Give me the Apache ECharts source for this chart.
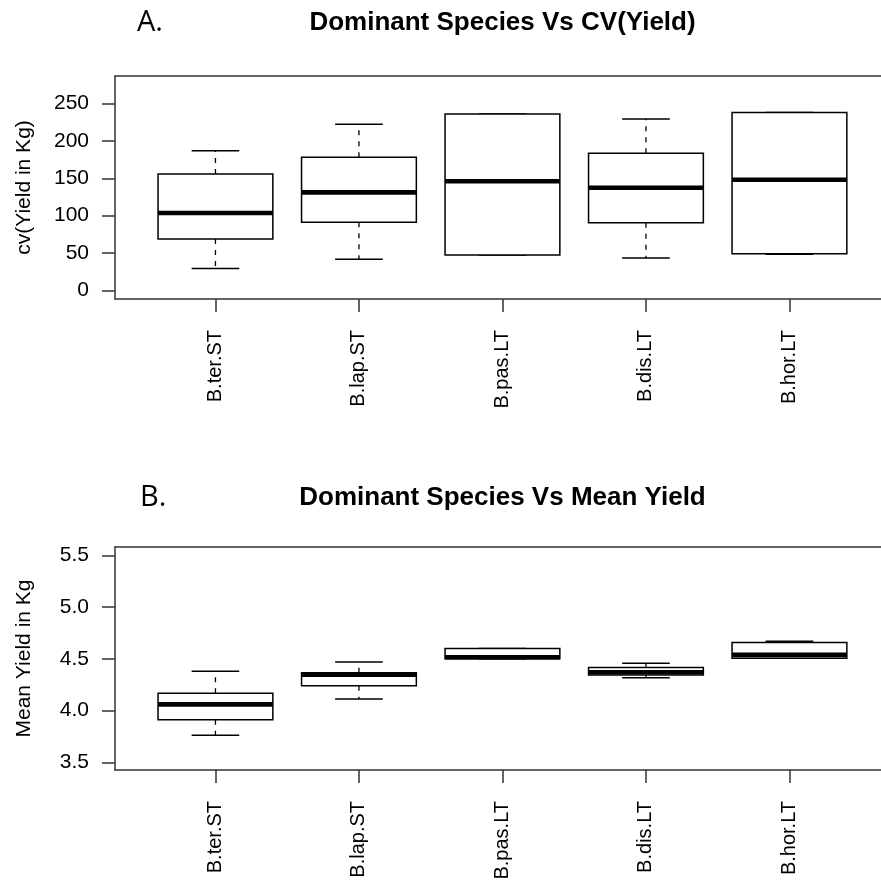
<!DOCTYPE html>
<html><head><meta charset="utf-8">
<script src="https://cdn.jsdelivr.net/npm/echarts@6/dist/echarts.min.js"></script>
<style>html,body{margin:0;padding:0;background:#fff}#c{width:881px;height:884px}</style>
</head><body><div id="c"></div>
<script>
const categories = ['B.ter.ST', 'B.lap.ST', 'B.pas.LT', 'B.dis.LT', 'B.hor.LT'];
// each: [lower whisker, Q1, median, Q3, upper whisker]
const cvYield = [
  [29.3, 69.0, 103.5, 155.7, 186.8],
  [41.9, 91.2, 131.2, 178.0, 222.0],
  [47.6, 47.6, 145.9, 235.7, 235.7],
  [43.6, 90.7, 137.4, 183.3, 229.0],
  [48.5, 49.0, 148.1, 238.0, 238.0]
];
const meanYield = [
  [3.761, 3.911, 4.060, 4.168, 4.381],
  [4.111, 4.239, 4.347, 4.366, 4.468],
  [4.500, 4.500, 4.515, 4.600, 4.600],
  [4.316, 4.343, 4.370, 4.417, 4.458],
  [4.506, 4.506, 4.538, 4.658, 4.670]
];
const cvTicks = [0, 50, 100, 150, 200, 250];
const meanTicks = [3.5, 4.0, 4.5, 5.0, 5.5];
const catPositions = [1, 2, 3, 4, 5];

const FONT = 'Liberation Sans, Arial, Helvetica, sans-serif';
const FRAME = '#333';
const X_MIN = 0.3, X_MAX = 5.638;

function renderBox(params, api) {
  const x = api.value(0);
  const lo = api.value(1), q1 = api.value(2), med = api.value(3), q3 = api.value(4), hi = api.value(5);
  const cx = api.coord([x, med])[0];
  const halfBox = api.size([0.4, 0])[0];
  const capHalf = api.size([0.166, 0])[0];
  const yLo = api.coord([x, lo])[1], yQ1 = api.coord([x, q1])[1], yMed = api.coord([x, med])[1];
  const yQ3 = api.coord([x, q3])[1], yHi = api.coord([x, hi])[1];
  const dash = {stroke: '#000', lineWidth: 1.3, lineDash: [5, 6], fill: null};
  const solid = {stroke: '#000', lineWidth: 1.5, fill: null};
  const children = [];
  if (Math.abs(yHi - yQ3) > 0.5) {
    children.push({type: 'line', shape: {x1: cx, y1: yQ3, x2: cx, y2: yHi}, style: dash});
  }
  if (Math.abs(yLo - yQ1) > 0.5) {
    children.push({type: 'line', shape: {x1: cx, y1: yQ1, x2: cx, y2: yLo}, style: dash});
  }
  children.push({type: 'line', shape: {x1: cx - capHalf, y1: yHi, x2: cx + capHalf, y2: yHi}, style: solid});
  children.push({type: 'line', shape: {x1: cx - capHalf, y1: yLo, x2: cx + capHalf, y2: yLo}, style: solid});
  children.push({type: 'rect', shape: {x: cx - halfBox, y: yQ3, width: 2 * halfBox, height: yQ1 - yQ3},
    style: {fill: '#fff', stroke: '#000', lineWidth: 1.5}});
  children.push({type: 'line', shape: {x1: cx - halfBox, y1: yMed, x2: cx + halfBox, y2: yMed},
    style: {stroke: '#000', lineWidth: 4.6}});
  return {type: 'group', children: children};
}

function xAxisCfg(gi) {
  return {
    type: 'value', gridIndex: gi, min: X_MIN, max: X_MAX, position: 'bottom',
    axisLine: {show: true, onZero: false, lineStyle: {color: FRAME, width: 1.5}},
    splitLine: {show: false},
    axisTick: {show: true, customValues: catPositions, length: 13, lineStyle: {color: FRAME, width: 1.5}},
    axisLabel: {
      customValues: catPositions, rotate: 90, margin: 31, fontSize: 20, color: '#000', fontFamily: FONT,
      formatter: v => categories[Math.round(v) - 1]
    }
  };
}
function xTopCfg(gi) {
  return {
    type: 'value', gridIndex: gi, min: X_MIN, max: X_MAX, position: 'top',
    axisLine: {show: true, onZero: false, lineStyle: {color: FRAME, width: 1.5}},
    splitLine: {show: false}, axisTick: {show: false}, axisLabel: {show: false}
  };
}
function yAxisCfg(gi, min, max, ticks, name, fmt) {
  return {
    type: 'value', gridIndex: gi, min: min, max: max, position: 'left',
    axisLine: {show: true, onZero: false, lineStyle: {color: FRAME, width: 1.5}},
    splitLine: {show: false},
    axisTick: {show: true, customValues: ticks, length: 13, lineStyle: {color: FRAME, width: 1.5}},
    axisLabel: {customValues: ticks, margin: 26, fontSize: 21, color: '#000', fontFamily: FONT, formatter: fmt},
    name: name, nameLocation: 'middle', nameGap: 80,
    nameTextStyle: {fontSize: 21, color: '#000', fontFamily: FONT}
  };
}

const chart = echarts.init(document.getElementById('c'), null, {renderer: 'canvas'});
chart.setOption({
  backgroundColor: '#fff',
  animation: false,
  grid: [
    {left: 115, top: 76, right: 0, height: 223, show: false},
    {left: 115, top: 547, right: 0, height: 223, show: false}
  ],
  xAxis: [xAxisCfg(0), xAxisCfg(1), xTopCfg(0), xTopCfg(1)],
  yAxis: [
    yAxisCfg(0, -11.3, 286.6, cvTicks, 'cv(Yield in Kg)', v => String(v)),
    yAxisCfg(1, 3.426, 5.58, meanTicks, 'Mean Yield in Kg', v => v.toFixed(1))
  ],
  graphic: [
    {type: 'text', x: 137, y: 23, style: {text: 'A.', font: '29px "Open Sans", sans-serif', fill: '#000', textAlign: 'left', textVerticalAlign: 'middle', align: 'left', verticalAlign: 'middle'}},
    {type: 'text', x: 502.5, y: 23, style: {text: 'Dominant Species Vs CV(Yield)', font: 'bold 26px ' + FONT, fill: '#000', textAlign: 'center', textVerticalAlign: 'middle', align: 'center', verticalAlign: 'middle'}},
    {type: 'text', x: 140, y: 498, style: {text: 'B.', font: '29px "Open Sans", sans-serif', fill: '#000', textAlign: 'left', textVerticalAlign: 'middle', align: 'left', verticalAlign: 'middle'}},
    {type: 'text', x: 502.5, y: 498, style: {text: 'Dominant Species Vs Mean Yield', font: 'bold 26px ' + FONT, fill: '#000', textAlign: 'center', textVerticalAlign: 'middle', align: 'center', verticalAlign: 'middle'}}
  ],
  series: [
    {type: 'custom', xAxisIndex: 0, yAxisIndex: 0, renderItem: renderBox,
      encode: {x: 0, y: [1, 2, 3, 4, 5]},
      data: cvYield.map((d, i) => [catPositions[i]].concat(d))},
    {type: 'custom', xAxisIndex: 1, yAxisIndex: 1, renderItem: renderBox,
      encode: {x: 0, y: [1, 2, 3, 4, 5]},
      data: meanYield.map((d, i) => [catPositions[i]].concat(d))}
  ]
});
</script></body></html>
